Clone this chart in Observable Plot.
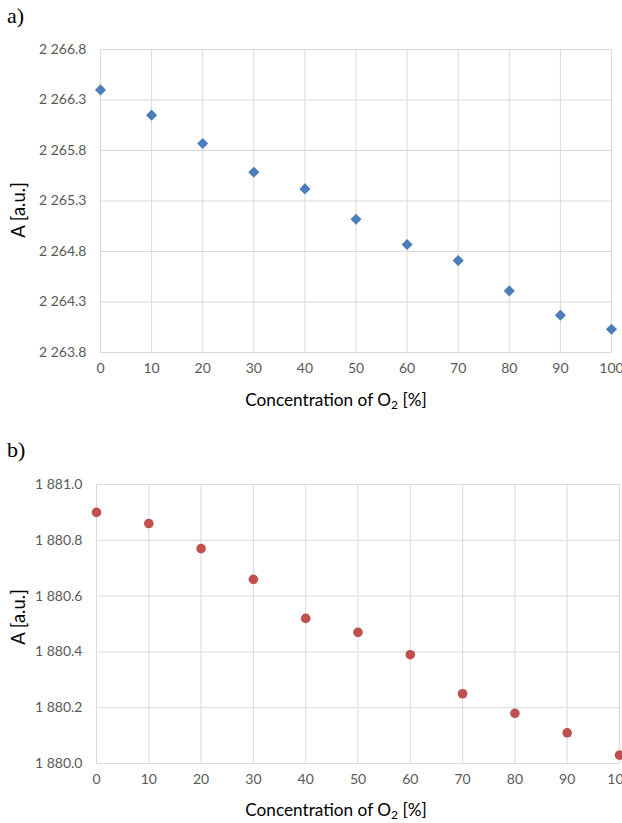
<!DOCTYPE html>
<html>
<head>
<meta charset="utf-8">
<script src="https://cdn.jsdelivr.net/npm/d3@7"></script>
<script src="https://cdn.jsdelivr.net/npm/@observablehq/plot@0.6"></script>
<style>
  html, body { margin: 0; padding: 0; background: #fff; overflow: hidden; }
  #wrap { position: relative; width: 622px; height: 823px; }
  .panel-label { position: absolute; z-index: 2; font-family: "Liberation Serif", serif; font-size: 22px; color: #000; }
  .ytitle { position: absolute; z-index: 2; font-family: Lato, "Open Sans", sans-serif; font-size: 18.5px; color: #000;
            transform: translate(-50%, -50%) rotate(-90deg); white-space: nowrap; }
  .xtitle { position: absolute; z-index: 2; font-family: Lato, "Open Sans", sans-serif; font-size: 17.2px; color: #000;
            transform: translate(-50%, -50%); white-space: nowrap; }
  .xtitle sub { font-size: 0.7em; vertical-align: -0.25em; line-height: 0; }
  .chart { position: absolute; left: 0; z-index: 1; }
</style>
</head>
<body>
<div id="wrap">
  <div id="chartA" class="chart" style="top:0px;"></div>
  <div id="chartB" class="chart" style="top:440px;"></div>
  <div class="panel-label" style="left:7px; top:3px;">a)</div>
  <div class="panel-label" style="left:7px; top:437px;">b)</div>
  <div class="ytitle" style="left:18px; top:210px;">A [a.u.]</div>
  <div class="ytitle" style="left:18px; top:617px;">A [a.u.]</div>
  <div class="xtitle" style="left:336px; top:399px;">Concentration of O<sub>2</sub> [%]</div>
  <div class="xtitle" style="left:336px; top:809px;">Concentration of O<sub>2</sub> [%]</div>
</div>
<script>
// Data
const concentration = [0, 10, 20, 30, 40, 50, 60, 70, 80, 90, 100];
const valuesA = [2266.40, 2266.15, 2265.87, 2265.585, 2265.42, 2265.12, 2264.87, 2264.71, 2264.41, 2264.17, 2264.03];
const valuesB = [1880.90, 1880.86, 1880.77, 1880.66, 1880.52, 1880.47, 1880.39, 1880.25, 1880.18, 1880.11, 1880.03];
const yTicksA = [2263.8, 2264.3, 2264.8, 2265.3, 2265.8, 2266.3, 2266.8];
const yTicksB = [1880.0, 1880.2, 1880.4, 1880.6, 1880.8, 1881.0];
const xTicks = [0, 10, 20, 30, 40, 50, 60, 70, 80, 90, 100];

const fmt = v => d3.format(",.1f")(v).replace(/,/g, " ");
const gridColor = "#d9d9d9";
const tickColor = "#595959";

function panel(values, yTicks, yDomain, opts) {
  const data = concentration.map((c, i) => ({c, v: values[i]}));
  return Plot.plot({
    width: 622,
    height: opts.height,
    marginLeft: opts.left,
    marginRight: opts.right,
    marginTop: opts.top,
    marginBottom: opts.bottom,
    style: {fontFamily: "Lato, 'Open Sans', sans-serif", fontSize: "14px", background: "transparent", overflow: "visible"},
    x: {domain: [0, 100]},
    y: {domain: yDomain},
    marks: [
      Plot.gridX(xTicks, {stroke: gridColor, strokeOpacity: 1, strokeWidth: 1}),
      Plot.gridY(yTicks, {stroke: gridColor, strokeOpacity: 1, strokeWidth: 1}),
      Plot.axisX(xTicks, {tickSize: 0, tickPadding: 11, label: null, color: tickColor, fontSize: 14}),
      Plot.axisY(yTicks, {tickSize: 0, tickPadding: 14, label: null, tickFormat: fmt, color: tickColor, fontSize: 14}),
      Plot.dot(data, {x: "c", y: "v", symbol: opts.symbol, r: opts.r, fill: opts.color, stroke: null})
    ]
  });
}

document.getElementById("chartA").appendChild(
  panel(valuesA, yTicksA, [2263.8, 2266.8], {height: 380, left: 100, right: 11, top: 49, bottom: 28, symbol: "diamond2", r: 5, color: "#4a7ebb"})
);
document.getElementById("chartB").appendChild(
  panel(valuesB, yTicksB, [1880.0, 1881.0], {height: 353, left: 96, right: 3, top: 44, bottom: 30, symbol: "circle", r: 4.8, color: "#c0504d"})
);
</script>
</body>
</html>
